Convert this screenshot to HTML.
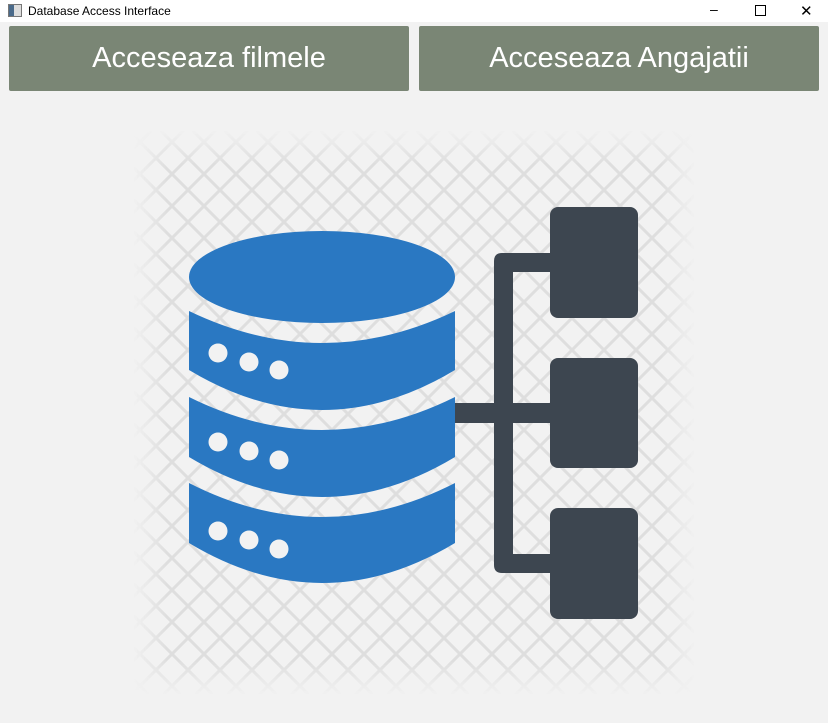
<!DOCTYPE html>
<html><head><meta charset="utf-8"><style>
body{margin:0;width:828px;height:723px;background:#f2f2f2;font-family:"Liberation Sans",sans-serif;overflow:hidden;position:relative}
.tb{position:absolute;left:0;top:0;width:828px;height:22px;background:#fff;font-size:12px}
.btn{position:absolute;top:26px;height:65px;width:400px;background:#7a8675;color:#fff;font-size:29px;display:flex;align-items:center;justify-content:center;border-radius:2px}
</style></head><body>
<div class="tb">
<div style="position:absolute;left:8px;top:4px;width:12px;height:11px;border:1px solid #777;background:linear-gradient(90deg,#4a6a8a 40%,#ddd 40%)"></div>
<span style="position:absolute;left:28px;top:4px">Database Access Interface</span>
<span style="position:absolute;left:710px;top:1px;font-size:14px">–</span>
<div style="position:absolute;left:755px;top:5px;width:9px;height:9px;border:1px solid #000"></div>
<span style="position:absolute;left:800px;top:2px;font-size:15px">✕</span>
</div>
<div class="btn" style="left:9px">Acceseaza filmele</div>
<div class="btn" style="left:419px">Acceseaza Angajatii</div>
<svg width="828" height="723" style="position:absolute;left:0;top:0">
<defs>
<pattern id="p" x="12" y="14" width="32" height="32" patternUnits="userSpaceOnUse">
<path d="M-1 -1L33 33M33 -1L-1 33" stroke="#dedede" stroke-width="3"/>
</pattern>
<linearGradient id="gx" x1="0" x2="1"><stop offset="0" stop-color="#000"/><stop offset=".06" stop-color="#fff"/><stop offset=".94" stop-color="#fff"/><stop offset="1" stop-color="#000"/></linearGradient>
<linearGradient id="gy" x1="0" x2="0" y1="0" y2="1"><stop offset="0" stop-color="#000"/><stop offset=".06" stop-color="#fff"/><stop offset=".94" stop-color="#fff"/><stop offset="1" stop-color="#000"/></linearGradient>
<mask id="my"><rect x="133" y="130" width="562" height="565" fill="url(#gy)"/></mask>
<mask id="mx"><rect x="133" y="130" width="562" height="565" fill="url(#gx)"/></mask>
</defs>
<g mask="url(#mx)"><rect x="133" y="130" width="562" height="565" fill="url(#p)" mask="url(#my)"/></g>
<g fill="#2a78c2">
<ellipse cx="322" cy="277" rx="133" ry="46"/>
<path d="M189 311Q322 375 455 311L455 370Q322 450 189 370Z"/>
<path d="M189 397Q322 463 455 397L455 457Q322 537 189 457Z"/>
<path d="M189 483Q322 551 455 483L455 543Q322 623 189 543Z"/>
</g>
<g fill="#f2f2f2">
<circle cx="218" cy="353" r="9.5"/><circle cx="249" cy="362" r="9.5"/><circle cx="279" cy="370" r="9.5"/>
<circle cx="218" cy="442" r="9.5"/><circle cx="249" cy="451" r="9.5"/><circle cx="279" cy="460" r="9.5"/>
<circle cx="218" cy="531" r="9.5"/><circle cx="249" cy="540" r="9.5"/><circle cx="279" cy="549" r="9.5"/>
</g>
<g fill="#3d4650">
<rect x="550" y="207" width="88" height="111" rx="8"/>
<rect x="550" y="358" width="88" height="110" rx="8"/>
<rect x="550" y="508" width="88" height="111" rx="8"/>
<path d="M502 253H552V272H513V554H552V573H502Q494 573 494 565V261Q494 253 502 253Z"/>
<rect x="455" y="403" width="97" height="20"/>
</g>
</svg>
</body></html>
